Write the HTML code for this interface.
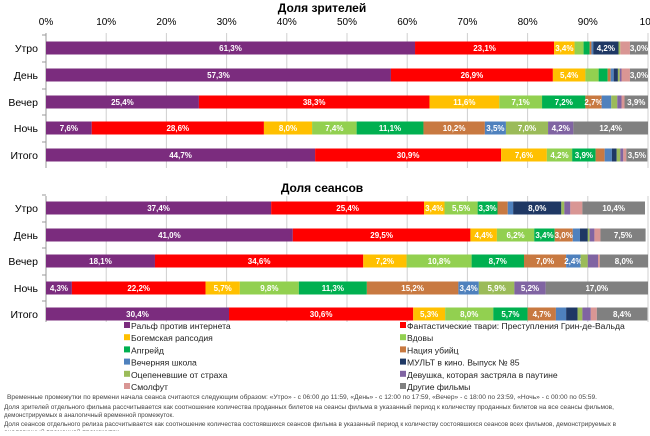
<!DOCTYPE html><html><head><meta charset="utf-8"><style>
body{margin:0;background:#fff;width:650px;height:431px;overflow:hidden;font-family:"Liberation Sans","DejaVu Sans",sans-serif}
</style></head><body>
<svg id="s" width="650" height="431" xmlns="http://www.w3.org/2000/svg" font-family="Liberation Sans, DejaVu Sans, sans-serif"></svg>
<script>
(function(){
var C=["#7B2C7E","#FF0000","#FFC000","#92D050","#00B050","#C87941","#4F81BD","#1F3864","#9BBB59","#8064A2","#D99694","#808080"];
var dTop=[[61.3,23.1,3.4,1.5,1.0,0.3,0.3,4.2,0.3,0,1.6,3.0],[57.3,26.9,5.4,2.2,1.5,0.5,0.5,0.7,0.3,0.3,1.4,3.0],[25.4,38.3,11.6,7.1,7.2,2.7,1.6,0,1.0,0.7,0.5,3.9],[7.6,28.6,8.0,7.4,11.1,10.2,3.5,0,7.0,4.2,0,12.4],[44.7,30.9,7.6,4.2,3.9,1.5,1.2,0.8,0.6,0.5,0.5,3.5]];
var dBot=[[37.4,25.4,3.4,5.5,3.3,1.7,0.9,8.0,0.5,1.0,2.0,10.4],[41.0,29.5,4.4,6.2,3.4,3.0,1.2,1.3,0.3,0.8,1.0,7.5],[18.1,34.6,7.2,10.8,8.7,7.0,2.4,0,1.2,1.7,0.3,8.0],[4.3,22.2,5.7,9.8,11.3,15.2,3.4,0,5.9,5.2,0,17.0],[30.4,30.6,5.3,8.0,5.7,4.7,1.7,1.9,0.8,1.4,1.0,8.4]];
var rows=["Утро","День","Вечер","Ночь","Итого"];
var h="",X0=46,S=6.02;
h+='<text x="322" y="12" font-size="12" font-weight="bold" text-anchor="middle">Доля зрителей</text>';
for(var i=0;i<=10;i++){var x=X0+i*60.2;h+='<text x="'+x+'" y="25" font-size="10" text-anchor="middle">'+(i==10?"100":i*10+"%")+'</text>';}
function chart(d,ys,y0,y1){
 for(var i=0;i<=10;i++){var x=X0+i*60.2;h+='<line x1="'+x+'" y1="'+y0+'" x2="'+x+'" y2="'+y1+'" stroke="#d0d0d0"/>';}
 h+='<line x1="'+X0+'" y1="'+y0+'" x2="'+X0+'" y2="'+y1+'" stroke="#999"/>';
 d.forEach(function(r,j){var y=ys[j],x=X0;
  h+='<text x="38" y="'+(y+4)+'" font-size="10.5" text-anchor="end">'+rows[j]+'</text>';
  h+='<line x1="42" y1="'+(y-13)+'" x2="46" y2="'+(y-13)+'" stroke="#999"/>';
  r.forEach(function(v,k){var w=v*S;if(w>0){h+='<rect x="'+x+'" y="'+(y-6.5)+'" width="'+w+'" height="13" fill="'+C[k]+'"/>';
   if(v>=2.3)h+='<text x="'+(x+w/2)+'" y="'+(y+3)+'" font-size="8" font-weight="bold" fill="#fff" text-anchor="middle">'+v.toFixed(1).replace(".",",")+'%</text>';}x+=w;});
 });
}
chart(dTop,[48,75,102,128,155],33,168);
h+='<text x="322" y="192" font-size="12" font-weight="bold" text-anchor="middle">Доля сеансов</text>';
chart(dBot,[208,235,261,288,314],196,322);
var L=["Ральф против интернета","Фантастические твари: Преступления Грин-де-Вальда","Богемская рапсодия","Вдовы","Апгрейд","Нация убийц","Вечерняя школа","МУЛЬТ в кино. Выпуск № 85","Оцепеневшие от страха","Девушка, которая застряла в паутине","Смолфут","Другие фильмы"];
L.forEach(function(t,i){var col=i%2,row=Math.floor(i/2),x=col?400:124,y=329+row*12.2;
 h+='<rect x="'+x+'" y="'+(y-7)+'" width="6" height="6" fill="'+C[i]+'"/><text x="'+(x+7)+'" y="'+y+'" font-size="8.6" fill="#222">'+t+'</text>';});
var F=[[7,399,"Временные промежутки по времени начала сеанса считаются следующим образом: «Утро» - с 06:00 до 11:59, «День» - с 12:00 по 17:59, «Вечер» - с 18:00 по 23:59, «Ночь» - с 00:00 по 05:59.",590],
[4,409,"Доля зрителей отдельного фильма рассчитывается как соотношение количества проданных билетов на сеансы фильма в указанный период к количеству проданных билетов на все сеансы фильмов,",610],
[4,417,"демонстрируемых в аналогичный временной промежуток.",170],
[4,426,"Доля сеансов отдельного релиза рассчитывается как соотношение количества состоявшихся сеансов фильма в указанный период к количеству состоявшихся сеансов всех фильмов, демонстрируемых в",612],
[4,434,"аналогичный временной промежуток",115]];
F.forEach(function(f){h+='<text x="'+f[0]+'" y="'+f[1]+'" font-size="6" fill="#444" textLength="'+f[3]+'" lengthAdjust="spacingAndGlyphs">'+f[2]+'</text>';});
document.getElementById("s").innerHTML=h;
})();
</script>
</body></html>
